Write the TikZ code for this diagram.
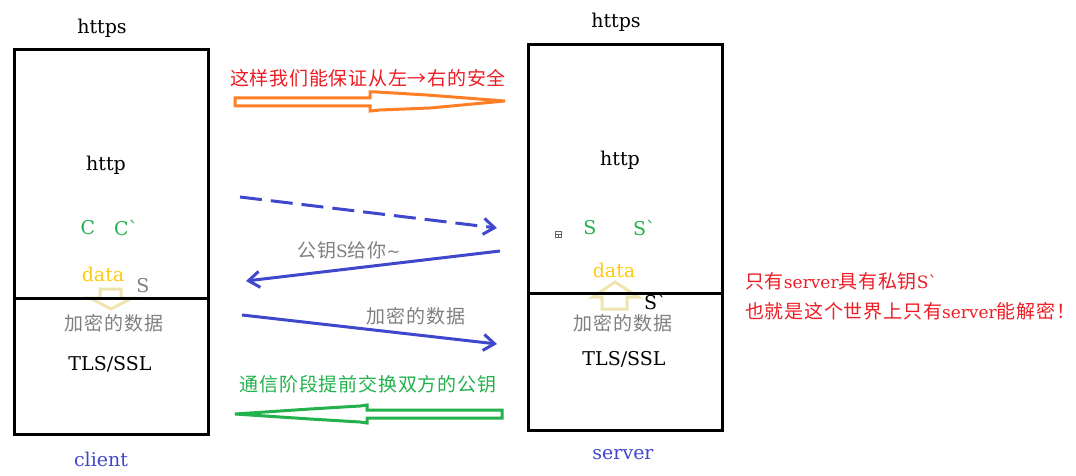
\documentclass[tikz,border=0pt]{standalone}
\usepackage{fontspec}
\setmainfont{DejaVu Serif}
\newfontfamily\cjk[LetterSpace=4]{Noto Sans CJK SC}
\usepackage{xcolor}
\usepackage{tikz}
\usetikzlibrary{arrows.meta,positioning,calc}

\definecolor{msgblue}{HTML}{3F48CC}
\definecolor{warnred}{HTML}{ED1C24}
\definecolor{keygreen}{HTML}{22B14C}
\definecolor{hollowor}{HTML}{FF7F27}
\definecolor{datayel}{HTML}{FFC90E}
\definecolor{beige}{HTML}{EFE4B0}
\definecolor{note}{HTML}{7F7F7F}

\newcommand{\latn}{\fontspec{DejaVu Serif}\fontsize{17}{22}\selectfont}
\newcommand{\han}{\cjk\fontsize{19}{22}\selectfont}

\begin{document}
\begin{tikzpicture}[
    x=1pt, y=-1pt,
    layer/.style={draw, line width=3pt, minimum width=194pt, anchor=north west, inner sep=0pt, outer sep=0pt},
    lbl/.style={font=\fontsize{19}{22}\selectfont, inner sep=0pt},
    cn/.style={font=\han, inner sep=0pt},
    msg/.style={draw=msgblue, line width=3pt, -{Straight Barb[length=11pt,width=16pt]}},
    hollow/.style={line width=3pt, line join=miter},
    divider/.style={line width=3pt}
]
    \useasboundingbox (0,0) rectangle (1076,476);

    % hollow arrows go under the box lines
    \draw[hollow, draw=beige] (100,289) -- (121,289) -- (121,298) -- (132,298) -- (111,309) -- (90,298) -- (100,298) -- cycle;
    \draw[hollow, draw=beige] (602,309) -- (627,309) -- (627,297) -- (638,297) -- (615,282) -- (593,297) -- (602,297) -- cycle;

    % client / server stacks
    \node[layer, minimum height=384pt] (clientbox) at (14,50) {};
    \node[layer, minimum height=385pt] (serverbox) at (528,45) {};
    \draw[divider] ([yshift=-248pt]clientbox.north west) -- ([yshift=-248pt]clientbox.north east);
    \draw[divider] ([yshift=-248pt]serverbox.north west) -- ([yshift=-248pt]serverbox.north east);

    \node[lbl] (chttps) at (102,28) {https};
    \node[lbl] (shttps) at (616,22) {https};
    \node[lbl] (chttp) at (106,165) {http};
    \node[lbl] (shttp) at (620,160) {http};

    \node[lbl, text=keygreen] (cpub) at (88,228) {C};
    \node[lbl, text=keygreen, anchor=west] (cpriv) at (114,228) {C\textasciigrave};
    \node[lbl, text=keygreen] (spub) at (590,228) {S};
    \node[lbl, text=keygreen, anchor=west] (spriv) at (633,228) {S\textasciigrave};
    \draw[note!80!black, line width=0.8pt] (555,231) rectangle (561,237) (555,234) -- (561,234) (558,234) -- (558,237);

    \node[lbl, text=datayel] (cdata) at (103,274) {data};
    \node[lbl, text=datayel] (sdata) at (614,270) {data};
    \node[lbl, text=note] (ckey) at (143,286) {S};
    \node[lbl, anchor=west] (skey) at (644,302) {S\textasciigrave};

    \node[cn, text=note] (cenc) at (114,323) {加密的数据};
    \node[cn, text=note] (senc) at (623,323) {加密的数据};
    \node[lbl] (ctls) at (110,364) {TLS/SSL};
    \node[lbl] (stls) at (624,359) {TLS/SSL};

    \node[lbl, text=msgblue] (client) at (101,459) {client};
    \node[lbl, text=msgblue] (server) at (623,455) {server};

    % messages
    \coordinate (hello1) at (240,197);
    \coordinate (hello2) at (497,228);
    \coordinate (key1) at (500,251);
    \coordinate (key2) at (246,281);
    \coordinate (data1) at (242,315);
    \coordinate (data2) at (497,344);
    \draw[msg, dash pattern=on 22pt off 9pt] (hello1) -- (hello2);
    \draw[msg] (key1) -- (key2);
    \draw[msg] (data1) -- (data2);
    \node[cn, text=note] (keylbl) at (349,250) {公钥\latn S\han 给你\latn\textasciitilde};
    \node[cn, text=note] (datalbl) at (416,316) {加密的数据};

    % left-right hints
    \node[cn, text=warnred] (safe) at (368,78) {这样我们能保证从左→右的安全};
    \draw[hollow, draw=hollowor] (235,98) -- (370,98) -- (370,92) -- (377,92) -- (427,95) -- (505,101) -- (430,108) -- (380,110) -- (370,111) -- (370,106) -- (235,106) -- cycle;

    \node[cn, text=keygreen] (swap) at (368,384) {通信阶段提前交换双方的公钥};
    \draw[hollow, draw=keygreen] (502,410) -- (367,410) -- (367,405) -- (360,406) -- (310,409) -- (235,414) -- (310,419) -- (360,422) -- (367,423) -- (367,418) -- (502,418) -- cycle;

    \node[cn, text=warnred, anchor=west] (only1) at (745,281) {只有\latn server\han 具有私钥\latn S\textasciigrave};
    \node[cn, text=warnred, anchor=west] (only2) at (745,311) {也就是这个世界上只有\latn server\han 能解密！};
\end{tikzpicture}
\end{document}
